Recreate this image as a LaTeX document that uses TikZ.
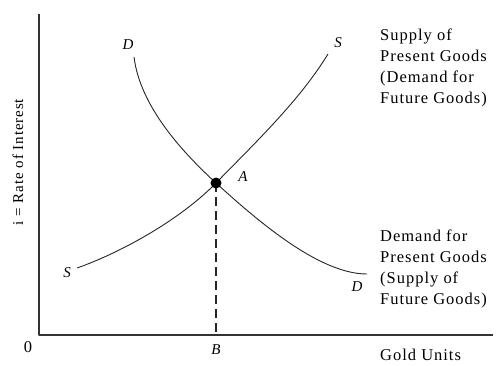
\documentclass[tikz,border=0pt]{standalone}
\usepackage{fontspec}
\setmainfont{Liberation Serif}[LetterSpace=6]
\tikzset{
  lbl/.style={font=\fontsize{16.5}{21}\selectfont,inner sep=0pt,align=left},
  curvelbl/.style={font=\fontsize{15}{15}\selectfont\itshape,inner sep=0pt},
  curve/.style={line width=0.9pt,black!85}
}
\begin{document}
\begin{tikzpicture}[x=1pt,y=1pt,line join=round]
\useasboundingbox (0,0) rectangle (500,365);
\coordinate (top) at (39,351);
\coordinate (orig) at (39,30);
\coordinate (right) at (493,30);
\coordinate (A) at (216,182);
\coordinate (Bx) at (216,30);
\draw[line width=1.6pt,black!80] (top)--(orig)--(right);
\draw[curve] (134,308) .. controls (140,260) and (180,215) .. (A) .. controls (260,142) and (320,91) .. (367,91);
\draw[curve] (77,97) .. controls (120,112) and (180,145) .. (A) .. controls (255,222) and (300,265) .. (328,311);
\draw[line width=1.1pt,black!85,dash pattern=on 9pt off 5pt] (A)--(Bx);
\fill[black] (A) circle[radius=5.5pt];
\node[lbl] (zero) at (28,18) {0};
\node[curvelbl] (B) at (216,15) {B};
\node[curvelbl] (Alab) at (243,188) {A};
\node[curvelbl] (Dtop) at (128,320) {D};
\node[curvelbl] (Dbot) at (357,78) {D};
\node[curvelbl] (Sleft) at (67,92) {S};
\node[curvelbl] (Stop) at (338,322) {S};
\node[lbl,anchor=west] (supply) at (380,297) {Supply of\\Present Goods\\(Demand for\\Future Goods)};
\node[lbl,anchor=west] (demand) at (380,96.5) {Demand for\\Present Goods\\(Supply of\\Future Goods)};
\node[lbl,anchor=west] (gold) at (380,10) {Gold Units};
\node[lbl,font=\fontsize{15}{15}\selectfont,rotate=90] (rate) at (18,203) {i = Rate of Interest};
\end{tikzpicture}
\end{document}
